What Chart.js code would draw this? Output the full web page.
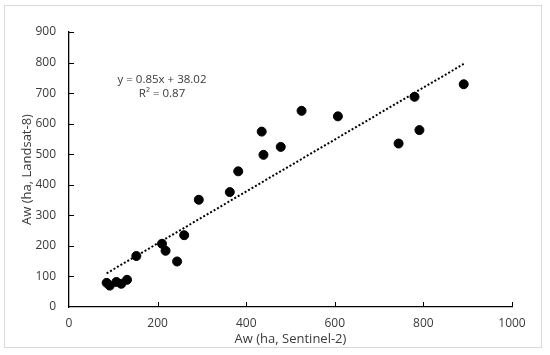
<!DOCTYPE html>
<html>
<head>
<meta charset="utf-8">
<script src="https://cdn.jsdelivr.net/npm/chart.js@4"></script>
<style>
  html, body { margin: 0; padding: 0; background: #fff; }
  #wrap { position: relative; width: 550px; height: 355px; }
</style>
</head>
<body>
<div id="wrap"><canvas id="scatterChart" width="550" height="355"></canvas></div>
<script>
/* data */
const sentinel = [85, 92, 107, 118, 131, 152, 210, 218, 244, 260, 293, 363, 382, 435, 439, 478, 525, 607, 744, 780, 791, 891];
const landsat  = [79, 70, 82, 76, 89, 167, 207, 184, 149, 235, 351, 376, 444, 574, 498, 524, 642, 624, 535, 688, 579, 729];

const slope = 0.85;
const intercept = 38.02;
const trendX = [85, 891];
const eqText = ["y = 0.85x + 38.02", "R² = 0.87"];

const xTicks = [0, 200, 400, 600, 800, 1000];
const yTicks = [0, 100, 200, 300, 400, 500, 600, 700, 800, 900];

const textColor = "#3a3a3a";
const fontFamily = "'Open Sans', sans-serif";

/* outer frame + inward tick marks + equation label */
const decor = {
  id: "decor",
  beforeDraw(chart) {
    const ctx = chart.ctx;
    ctx.save();
    ctx.strokeStyle = "#d9d9d9";
    ctx.lineWidth = 1;
    ctx.strokeRect(4.5, 5.5, 537, 342);
    ctx.restore();
  },
  afterDraw(chart) {
    const ctx = chart.ctx;
    const xs = chart.scales.x, ys = chart.scales.y;
    ctx.save();
    ctx.strokeStyle = "#000";
    ctx.lineWidth = 1;
    ctx.beginPath();
    yTicks.forEach(v => {
      if (v === 0) return;
      const py = Math.round(ys.getPixelForValue(v)) + 0.5;
      ctx.moveTo(xs.left, py);
      ctx.lineTo(xs.left + 5, py);
    });
    xTicks.forEach(v => {
      if (v === 0) return;
      const px = Math.round(xs.getPixelForValue(v)) + 0.5;
      ctx.moveTo(px, ys.bottom);
      ctx.lineTo(px, ys.bottom - 5);
    });
    ctx.stroke();

    ctx.fillStyle = textColor;
    ctx.font = "11.5px " + fontFamily;
    ctx.textAlign = "center";
    ctx.textBaseline = "middle";
    ctx.fillText(eqText[0], xs.getPixelForValue(210), ys.getPixelForValue(745));
    ctx.fillText(eqText[1], xs.getPixelForValue(210), ys.getPixelForValue(697));
    ctx.restore();
  }
};

document.addEventListener("DOMContentLoaded", () => {
  const canvas = document.getElementById("scatterChart");

  new Chart(canvas, {
    type: "scatter",
    data: {
      datasets: [
        {
          label: "Aw",
          data: sentinel.map((x, i) => ({ x: x, y: landsat[i] })),
          backgroundColor: "#000",
          borderColor: "#000",
          pointRadius: 4.5,
          pointHoverRadius: 4.5
        },
        {
          type: "line",
          label: "Linear",
          data: trendX.map(x => ({ x: x, y: slope * x + intercept })),
          borderColor: "#000",
          borderWidth: 2,
          borderDash: [2, 2],
          pointRadius: 0,
          fill: false
        }
      ]
    },
    options: {
      responsive: false,
      animation: false,
      layout: {
        padding: { left: 0, top: 32, right: 38, bottom: 0 }
      },
      plugins: {
        legend: { display: false },
        tooltip: { enabled: false }
      },
      scales: {
        x: {
          type: "linear",
          min: 0,
          max: 1000,
          afterBuildTicks: s => { s.ticks = xTicks.map(v => ({ value: v })); },
          afterFit: s => { s.height = 48; },
          grid: { display: false, drawTicks: false },
          border: { display: true, color: "#000", width: 1.3 },
          ticks: {
            color: textColor,
            font: { family: fontFamily, size: 12 },
            padding: 9,
            callback: value => String(value)
          },
          title: {
            display: true,
            text: "Aw (ha, Sentinel-2)",
            color: textColor,
            font: { family: fontFamily, size: 13 },
            padding: { top: 0, bottom: 8 }
          }
        },
        y: {
          type: "linear",
          min: 0,
          max: 900,
          afterBuildTicks: s => { s.ticks = yTicks.map(v => ({ value: v })); },
          afterFit: s => { s.width = 69; },
          grid: { display: false, drawTicks: false },
          border: { display: true, color: "#000", width: 1.3 },
          ticks: {
            color: textColor,
            font: { family: fontFamily, size: 12 },
            padding: 13,
            callback: value => String(value)
          },
          title: {
            display: true,
            text: "Aw (ha, Landsat-8)",
            color: textColor,
            font: { family: fontFamily, size: 13 },
            padding: { top: 19, bottom: 0 }
          }
        }
      }
    },
    plugins: [decor]
  });
});
</script>
</body>
</html>
